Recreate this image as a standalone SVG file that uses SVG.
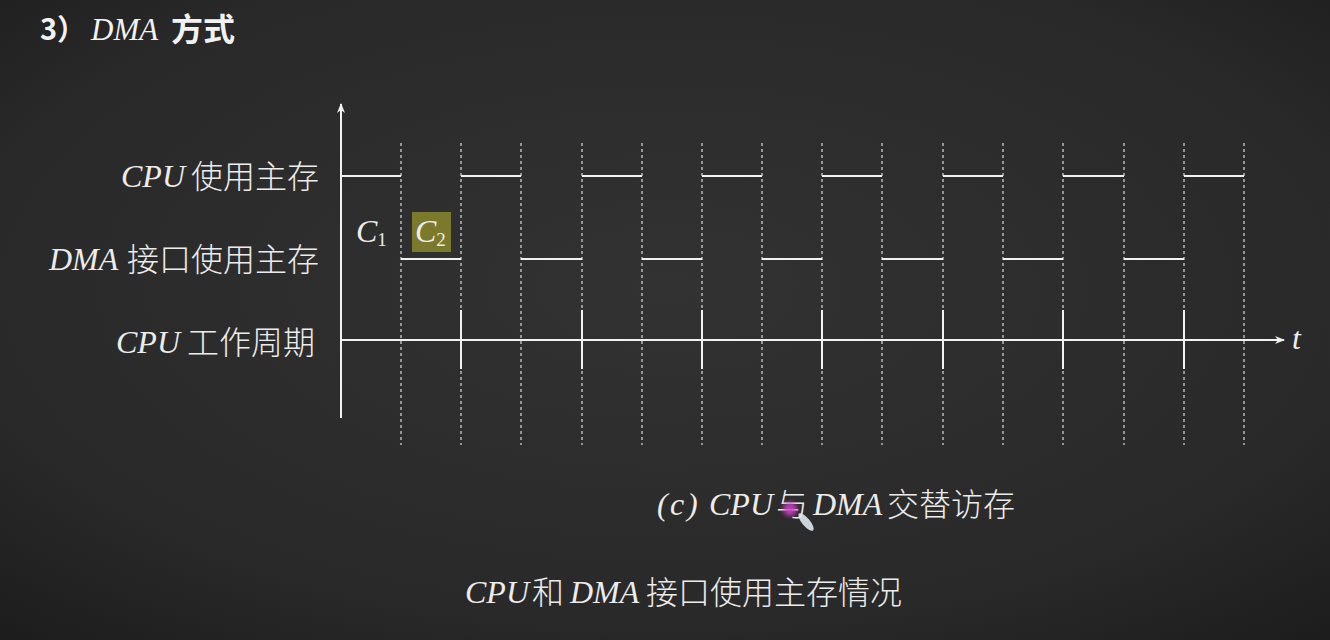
<svg xmlns="http://www.w3.org/2000/svg" width="1330" height="640" viewBox="0 0 1330 640">
  <defs>
    <radialGradient id="board" cx="0.5" cy="0.45" r="0.75">
      <stop offset="0" stop-color="#323232"/>
      <stop offset="0.7" stop-color="#292929"/>
      <stop offset="1" stop-color="#1c1c1c"/>
    </radialGradient>
    <marker id="arrow" viewBox="0 0 10 10" refX="9" refY="5" markerWidth="10" markerHeight="10" markerUnits="userSpaceOnUse" orient="auto">
      <path d="M0,1 L10,5 L0,9 L3,5 Z" fill="#f0f0f0"/>
    </marker>
    <filter id="soft" x="-50%" y="-50%" width="200%" height="200%">
      <feGaussianBlur stdDeviation="2"/>
    </filter>
    <style>
      .lat { font-family: "Liberation Serif", serif; font-style: italic; font-size: 32px; fill: #ececec; }
      .cjk { font-family: "Noto Sans CJK SC", sans-serif; font-weight: 300; font-size: 32px; fill: #ececec; }
      .grid { stroke: #cfcfcf; stroke-width: 1.3; stroke-dasharray: 3 3; fill: none; }
      .sig { stroke: #f2f2f2; stroke-width: 2; fill: none; }
      .axis { stroke: #f2f2f2; stroke-width: 2; fill: none; }
    </style>
  </defs>

  <!-- chalkboard -->
  <rect x="0" y="0" width="1330" height="640" fill="url(#board)"/>

  <!-- heading -->
  <g id="title" fill="#f2f2f2">
    <text x="40" y="40" font-family="Noto Sans CJK SC, sans-serif" font-weight="bold" font-size="29">3）</text>
    <text x="91" y="40" font-family="Liberation Serif, serif" font-style="italic" font-size="31">DMA</text>
    <text x="171" y="41" font-family="Noto Sans CJK SC, sans-serif" font-weight="bold" font-size="32">方式</text>
  </g>

  <!-- row labels -->
  <g id="label-cpu">
    <text class="lat" x="121" y="187">CPU</text>
    <text class="cjk" x="191" y="188">使用主存</text>
  </g>
  <g id="label-dma">
    <text class="lat" x="49" y="270">DMA</text>
    <text class="cjk" x="127" y="271">接口使用主存</text>
  </g>
  <g id="label-cycle">
    <text class="lat" x="116" y="353">CPU</text>
    <text class="cjk" x="187" y="354">工作周期</text>
  </g>

  <!-- cycle boundaries -->
  <g id="grid">
    <line class="grid" x1="401" y1="143" x2="401" y2="445"/>
    <line class="grid" x1="461" y1="143" x2="461" y2="445"/>
    <line class="grid" x1="521" y1="143" x2="521" y2="445"/>
    <line class="grid" x1="582" y1="143" x2="582" y2="445"/>
    <line class="grid" x1="642" y1="143" x2="642" y2="445"/>
    <line class="grid" x1="702" y1="143" x2="702" y2="445"/>
    <line class="grid" x1="762" y1="143" x2="762" y2="445"/>
    <line class="grid" x1="822" y1="143" x2="822" y2="445"/>
    <line class="grid" x1="882" y1="143" x2="882" y2="445"/>
    <line class="grid" x1="943" y1="143" x2="943" y2="445"/>
    <line class="grid" x1="1003" y1="143" x2="1003" y2="445"/>
    <line class="grid" x1="1063" y1="143" x2="1063" y2="445"/>
    <line class="grid" x1="1124" y1="143" x2="1124" y2="445"/>
    <line class="grid" x1="1184" y1="143" x2="1184" y2="445"/>
    <line class="grid" x1="1244" y1="143" x2="1244" y2="445"/>
  </g>

  <!-- axes -->
  <g id="axes">
    <line class="axis" x1="341" y1="418" x2="341" y2="104" marker-end="url(#arrow)"/>
    <line class="axis" x1="341" y1="340" x2="1284" y2="340" marker-end="url(#arrow)"/>
    <text class="lat" x="1292" y="349" font-size="28">t</text>
  </g>

  <!-- CPU memory access -->
  <g id="cpu-signal">
    <line class="sig" x1="341" y1="176" x2="401" y2="176"/>
    <line class="sig" x1="461" y1="176" x2="521" y2="176"/>
    <line class="sig" x1="582" y1="176" x2="642" y2="176"/>
    <line class="sig" x1="702" y1="176" x2="762" y2="176"/>
    <line class="sig" x1="822" y1="176" x2="882" y2="176"/>
    <line class="sig" x1="943" y1="176" x2="1003" y2="176"/>
    <line class="sig" x1="1063" y1="176" x2="1124" y2="176"/>
    <line class="sig" x1="1184" y1="176" x2="1244" y2="176"/>
  </g>

  <!-- DMA memory access -->
  <g id="dma-signal">
    <line class="sig" x1="401" y1="259" x2="461" y2="259"/>
    <line class="sig" x1="521" y1="259" x2="582" y2="259"/>
    <line class="sig" x1="642" y1="259" x2="702" y2="259"/>
    <line class="sig" x1="762" y1="259" x2="822" y2="259"/>
    <line class="sig" x1="882" y1="259" x2="943" y2="259"/>
    <line class="sig" x1="1003" y1="259" x2="1063" y2="259"/>
    <line class="sig" x1="1124" y1="259" x2="1184" y2="259"/>
  </g>

  <!-- CPU cycle ticks -->
  <g id="cycle-ticks">
    <line class="sig" x1="461" y1="310" x2="461" y2="369"/>
    <line class="sig" x1="582" y1="310" x2="582" y2="369"/>
    <line class="sig" x1="702" y1="310" x2="702" y2="369"/>
    <line class="sig" x1="822" y1="310" x2="822" y2="369"/>
    <line class="sig" x1="943" y1="310" x2="943" y2="369"/>
    <line class="sig" x1="1063" y1="310" x2="1063" y2="369"/>
    <line class="sig" x1="1184" y1="310" x2="1184" y2="369"/>
  </g>

  <!-- sub-period labels -->
  <g id="c1">
    <text class="lat" x="356" y="242" font-size="31">C<tspan font-style="normal" font-size="19" dy="4">1</tspan></text>
  </g>
  <g id="c2">
    <rect x="412" y="212" width="39" height="40" fill="#7b7a2c"/>
    <text class="lat" x="415" y="242" font-size="31">C<tspan font-style="normal" font-size="19" dy="4">2</tspan></text>
  </g>

  <!-- captions -->
  <g id="caption-c">
    <text class="lat" x="657" y="515" font-style="normal">(</text>
    <text class="lat" x="670" y="515">c</text>
    <text class="lat" x="687" y="515" font-style="normal">)</text>
    <text class="lat" x="709" y="515">CPU</text>
    <text class="cjk" x="776" y="516">与</text>
    <text class="lat" x="813" y="515">DMA</text>
    <text class="cjk" x="887" y="516">交替访存</text>
    <circle cx="790" cy="509" r="7" fill="#d040c8" opacity="0.85" filter="url(#soft)"/>
    <ellipse cx="806" cy="522" rx="4" ry="11" transform="rotate(-40 806 522)" fill="#dde6ee" opacity="0.9"/>
  </g>
  <g id="caption-main">
    <text class="lat" x="465" y="603">CPU</text>
    <text class="cjk" x="532" y="604">和</text>
    <text class="lat" x="570" y="603">DMA</text>
    <text class="cjk" x="646" y="604">接口使用主存情况</text>
  </g>
</svg>
